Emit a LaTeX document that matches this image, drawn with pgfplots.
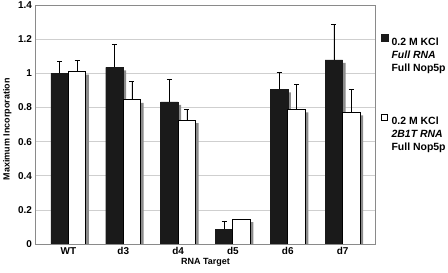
\documentclass[border=0pt]{standalone}
\usepackage{fontspec}
\setmainfont{Liberation Sans}
\usepackage{pgfplots}
\pgfplotsset{compat=1.18}
\definecolor{barblack}{HTML}{1A1A1A}
\definecolor{shadow}{HTML}{8C8C8C}
\definecolor{frame}{HTML}{8A8A8A}
\definecolor{gridc}{HTML}{CFCFCF}
\begin{document}
\begin{tikzpicture}
\path[use as bounding box] (0,0) rectangle (448bp,273bp);
\begin{axis}[
  at={(35.5bp,29bp)}, anchor=south west,
  scale only axis, width=340bp, height=239bp,
  xmin=-0.6, xmax=5.6, ymin=0, ymax=1.4,
  xtick={0,1,2,3,4,5},
  xticklabels={WT,d3,d4,d5,d6,d7},
  ytick={0,0.2,0.4,0.6,0.8,1,1.2,1.4},
  /pgf/number format/assume math mode=true,
  ticklabel style={font=\bfseries\fontsize{10}{12}\selectfont},
  major tick length=0pt,
  ymajorgrids, grid style={gridc, line width=0.7bp},
  axis line style={frame, line width=0.9bp},
  ylabel={Maximum Incorporation},
  xlabel={RNA Target},
  every axis y label/.style={at={(axis description cs:-0.083,0.48)}, rotate=90, anchor=center, font=\bfseries\fontsize{9}{11}\selectfont},
  every axis x label/.style={at={(axis description cs:0.5,-0.075)}, anchor=center, font=\bfseries\fontsize{9}{11}\selectfont},
  bar width=17.5bp,
  legend style={draw=none, fill=none, at={(axis description cs:1,1)}, anchor=north west,
    xshift=5bp, yshift=-29bp, inner sep=0pt, row sep=66bp,
    font=\bfseries\fontsize{10.5}{13}\selectfont,
    nodes={inner sep=1pt}},
  legend cell align=left,
]
% shadows
\addplot[ybar, fill=shadow, draw=none, bar shift=-5.75bp, yshift=-3bp, forget plot]
  coordinates {(0,1.00) (1,1.035) (2,0.832) (3,0.086) (4,0.906) (5,1.078)};
\addplot[ybar, fill=shadow, draw=none, bar shift=11.75bp, yshift=-3bp, forget plot]
  coordinates {(0,1.01) (1,0.844) (2,0.725) (3,0.145) (4,0.789) (5,0.771)};
% bars
\addplot[ybar, fill=barblack, draw=barblack, bar shift=-8.75bp,
  legend image code/.code={\fill[barblack] (-1bp,0bp) rectangle (6bp,7bp);},
  error bars/.cd, y dir=plus, y explicit,
  error bar style={black, line width=0.6bp, xshift=-8.75bp},
  error mark options={rotate=90, mark size=2.5bp, black, line width=0.6bp}]
  coordinates {(0,1.00) +- (0,0.070)
               (1,1.035) +- (0,0.133)
               (2,0.832) +- (0,0.135)
               (3,0.086) +- (0,0.049)
               (4,0.906) +- (0,0.097)
               (5,1.078) +- (0,0.207)};
\addlegendentry{\begin{tabular}[t]{@{\hspace{2.5bp}}l@{}}0.2 M KCl\\\textit{Full RNA}\\Full Nop5p\end{tabular}}
\addplot[ybar, fill=white, draw=black, line width=0.9bp, bar shift=8.75bp,
  legend image code/.code={\draw[black, line width=0.6bp, fill=white] (-0.7bp,0.3bp) rectangle (5.7bp,6.7bp);},
  error bars/.cd, y dir=plus, y explicit,
  error bar style={black, line width=0.6bp, xshift=8.75bp},
  error mark options={rotate=90, mark size=2.5bp, black, line width=0.6bp}]
  coordinates {(0,1.01) +- (0,0.066)
               (1,0.844) +- (0,0.109)
               (2,0.725) +- (0,0.065)
               (3,0.145) +- (0,0.0)
               (4,0.789) +- (0,0.146)
               (5,0.771) +- (0,0.135)};
\addlegendentry{\begin{tabular}[t]{@{\hspace{2.5bp}}l@{}}0.2 M KCl\\\textit{2B1T RNA}\\Full Nop5p\end{tabular}}
\end{axis}
\end{tikzpicture}
\end{document}
